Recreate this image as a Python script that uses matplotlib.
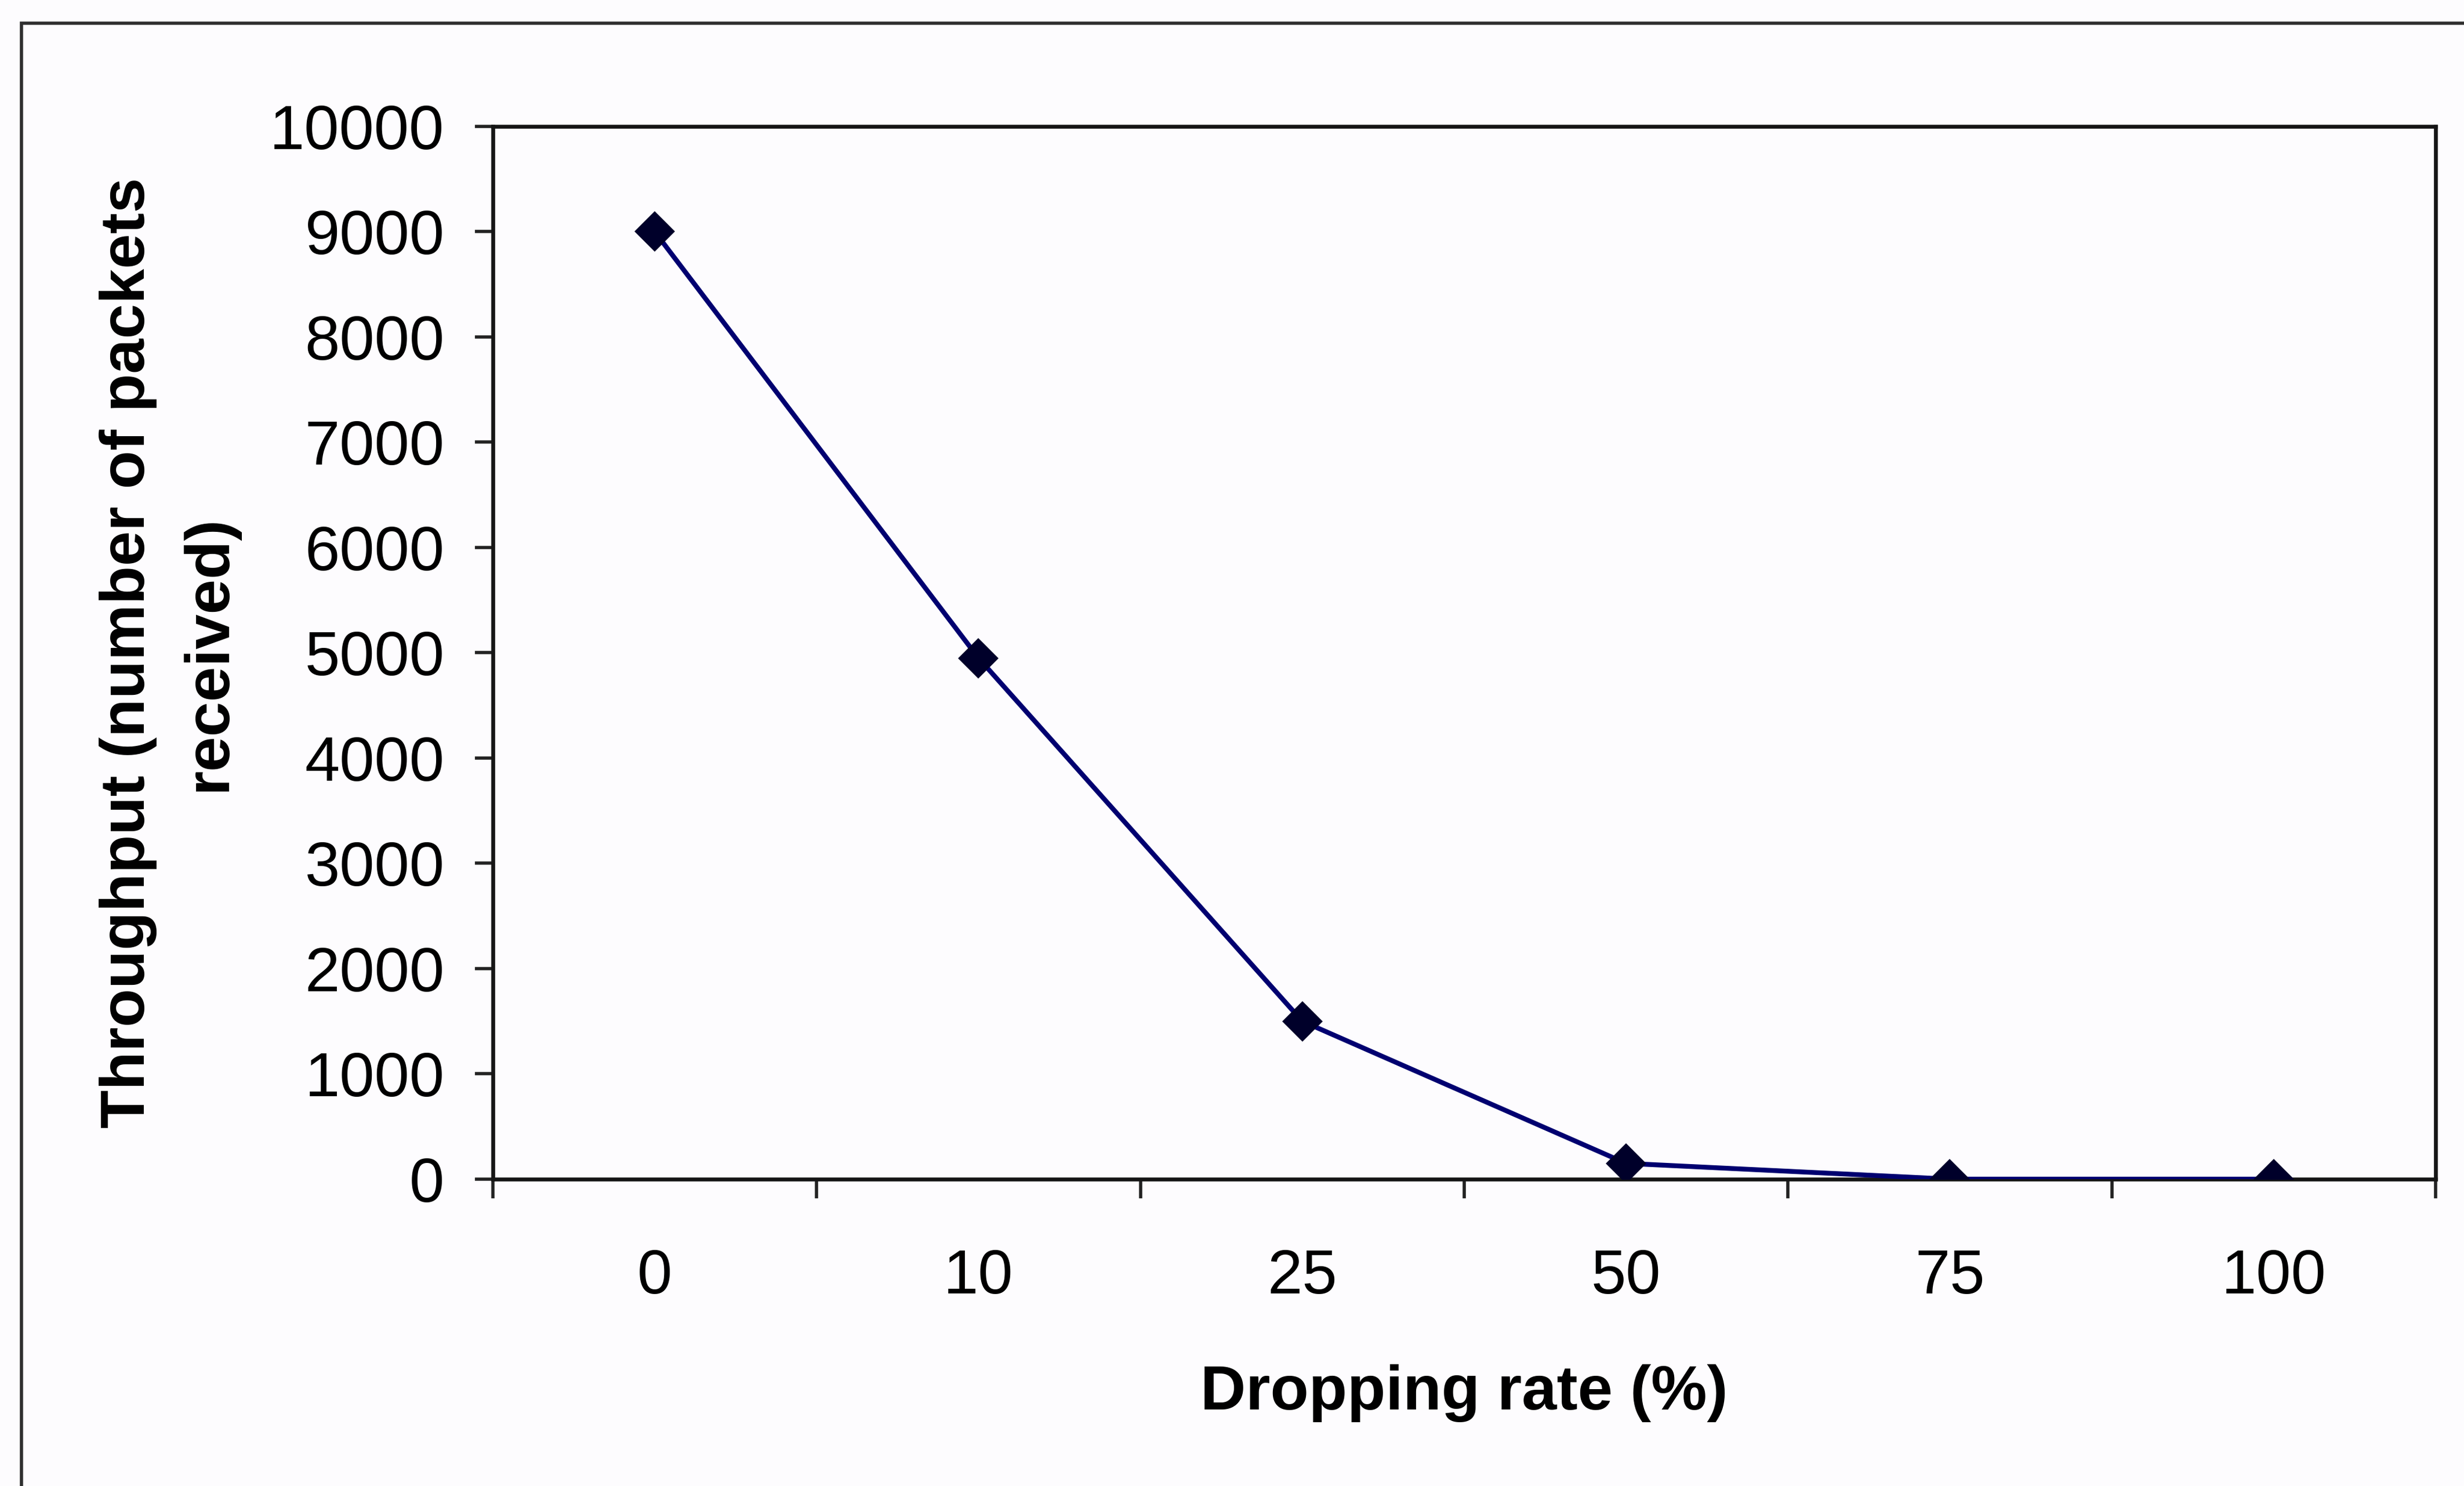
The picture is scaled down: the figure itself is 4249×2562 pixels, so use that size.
import matplotlib
matplotlib.use("Agg")
import matplotlib.pyplot as plt
from matplotlib.patches import Rectangle
from matplotlib.ticker import FixedLocator

# data
drop_rates = ['0', '10', '25', '50', '75', '100']
throughput = [9000, 4950, 1500, 150, 0, 0]
y_ticks = [0, 1000, 2000, 3000, 4000, 5000, 6000, 7000, 8000, 9000, 10000]

plt.rcParams['font.family'] = ['Liberation Sans', 'DejaVu Sans']

fig = plt.figure(figsize=(4249 / 200, 2562 / 200), dpi=200)
fig.patch.set_facecolor('#fdfcfe')

# outer chart-area border (runs off the right and bottom of the scan)
fig.patches.append(Rectangle((37 / 4249, -0.05), 1.1, 1 - 40 / 2562 + 0.05,
                             transform=fig.transFigure, fill=False,
                             edgecolor='#2e2e2e', linewidth=2.0))

ax = fig.add_axes([0.2000, 0.2065, 0.98847 - 0.2000, 0.91491 - 0.2065])
ax.set_facecolor('#fdfcfe')

xpos = list(range(len(drop_rates)))
ax.plot(xpos, throughput, color='#000070', linewidth=3.0,
        marker='D', markersize=16, markerfacecolor='#00002a',
        markeredgecolor='#00002a', markeredgewidth=2, zorder=3)

ax.set_xlim(-0.5, len(drop_rates) - 0.5)
ax.set_ylim(0, 10000)

# category labels sit between the tick marks
ax.set_xticks(xpos)
ax.set_xticklabels(drop_rates)
ax.xaxis.set_minor_locator(FixedLocator([i - 0.5 for i in range(len(drop_rates) + 1)]))
ax.tick_params(axis='x', which='major', length=0, pad=43, labelsize=39)
ax.tick_params(axis='x', which='minor', length=12, width=2.0, direction='out',
               color='#222222')

ax.set_yticks(y_ticks)
ax.tick_params(axis='y', which='major', length=11, width=2.0, direction='out',
               pad=19, labelsize=39, color='#222222')

for side in ['left', 'right', 'top', 'bottom']:
    ax.spines[side].set_linewidth(2.4)
    ax.spines[side].set_color('#151515')

ax.set_xlabel('Dropping rate (%)', fontsize=39, fontweight='bold', labelpad=36)
ax.set_ylabel('Throughput (number of packets\nreceived)', fontsize=39,
              fontweight='bold', va='center', linespacing=1.5)
ax.yaxis.set_label_coords(-0.1669, 0.5)

fig.savefig('out.png', dpi=200, facecolor=fig.get_facecolor())
